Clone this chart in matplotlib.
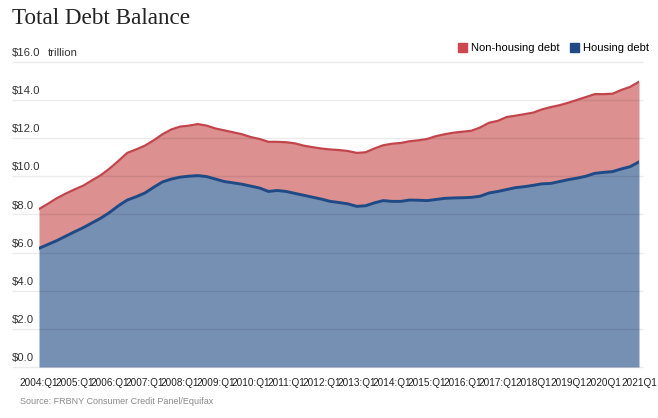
import matplotlib.pyplot as plt
from matplotlib.patches import Patch

# quarterly, 2004:Q1 .. 2021:Q1 (trillions of dollars)
total_debt = [
    8.28, 8.55, 8.84, 9.08,
    9.30, 9.50, 9.78, 10.05,
    10.40, 10.80, 11.22, 11.40,
    11.60, 11.88, 12.20, 12.45,
    12.60, 12.65, 12.73, 12.65,
    12.50, 12.40, 12.30, 12.20,
    12.05, 11.95, 11.80, 11.80,
    11.78, 11.72, 11.60, 11.52,
    11.45, 11.40, 11.37, 11.32,
    11.22, 11.25, 11.45, 11.62,
    11.70, 11.74, 11.83, 11.88,
    11.95, 12.10, 12.20, 12.28,
    12.33, 12.38, 12.55, 12.80,
    12.90, 13.10, 13.17, 13.25,
    13.33, 13.50, 13.62, 13.72,
    13.85, 14.00, 14.15, 14.30,
    14.30, 14.32, 14.52, 14.68, 14.95,
]
housing_debt = [
    6.22, 6.42, 6.62, 6.85,
    7.08, 7.30, 7.55, 7.80,
    8.10, 8.45, 8.75, 8.92,
    9.12, 9.42, 9.70, 9.85,
    9.95, 10.00, 10.03, 9.98,
    9.85, 9.72, 9.65, 9.58,
    9.48, 9.38, 9.20, 9.25,
    9.20, 9.10, 9.00, 8.90,
    8.80, 8.68, 8.62, 8.55,
    8.42, 8.45, 8.60, 8.72,
    8.68, 8.68, 8.75, 8.74,
    8.72, 8.78, 8.84, 8.86,
    8.87, 8.89, 8.95, 9.12,
    9.20, 9.30, 9.40, 9.45,
    9.52, 9.60, 9.62, 9.72,
    9.82, 9.90, 10.00, 10.15,
    10.20, 10.24, 10.38, 10.50, 10.75,
]
years = list(range(2004, 2022))
xtick_labels = [f"{y}:Q1" if y <= 2017 else f"{y}Q1" for y in years]
ytick_values = [0, 2, 4, 6, 8, 10, 12, 14, 16]

q = list(range(len(total_debt)))

plt.rcParams['font.family'] = ['Liberation Sans', 'DejaVu Sans']

fig = plt.figure(figsize=(6.58, 4.18), dpi=100)
ax = fig.add_axes([39 / 658, 51 / 418, 600 / 658, 305.3 / 418])

ax.fill_between(q, 0, housing_debt, color='#7690b3', lw=0, zorder=1)
ax.fill_between(q, housing_debt, total_debt, color='#dc9090', lw=0, zorder=1)
ax.plot(q, total_debt, color='#c2454c', lw=1.6, zorder=3)
ax.plot(q, housing_debt, color='#1f4a85', lw=2.1, zorder=3)

ax.set_xlim(0, len(q) - 1)
ax.set_ylim(0, 16)
ax.axis('off')

# gridlines run past the plot on the left, under the labels
ax.hlines(ytick_values, -0.045, 1.007, transform=ax.get_yaxis_transform(),
          color='black', alpha=0.08, lw=1, clip_on=False, zorder=2)
for v in ytick_values:
    ax.text(-0.045, v + 0.2, f"${v:.1f}", transform=ax.get_yaxis_transform(),
            fontsize=8.2, color='#333333', ha='left', va='bottom')
ax.text(48 / 658, 1 - 53 / 418, "trillion", transform=fig.transFigure,
        fontsize=8.2, color='#333333', ha='left', va='center')

for i, lab in enumerate(xtick_labels):
    ax.text(i * 4, -0.6, lab, fontsize=7.2, color='#222222', ha='center', va='top')

fig.text(12 / 658, 1 - 18 / 418, "Total Debt Balance", family='Liberation Serif',
         fontsize=16.7, color='#222222', ha='left', va='center')
fig.text(20 / 658, 1 - 401 / 418, "Source: FRBNY Consumer Credit Panel/Equifax",
         fontsize=6.5, color='#8a8a8a', ha='left', va='center')

handles = [Patch(color='#cf474e', label='Non-housing debt'),
           Patch(color='#1f4a85', label='Housing debt')]
fig.legend(handles=handles, loc='upper right', bbox_to_anchor=(649 / 658, 1 - 43 / 418),
           ncol=2, frameon=False, fontsize=8, handlelength=0.8, handleheight=0.8,
           handletextpad=0.4, columnspacing=0.9, borderaxespad=0, borderpad=0)

fig.savefig('out.png', dpi=100)
